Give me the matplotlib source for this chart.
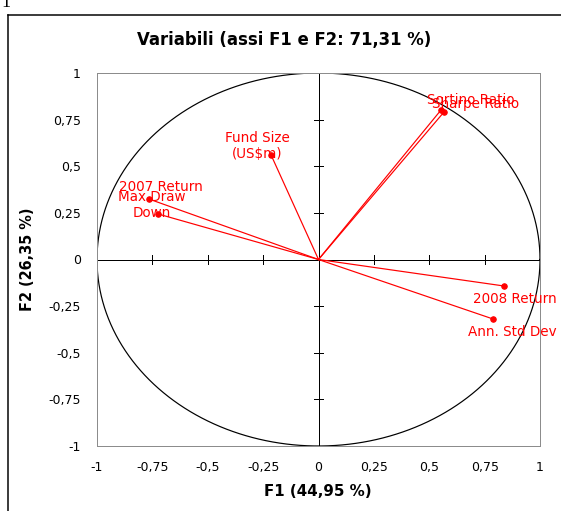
import numpy as np
import matplotlib
matplotlib.use("Agg")
import matplotlib.pyplot as plt

# correlation circle data (F1, F2 loadings)
variables = ["Fund Size\n(US$m)", "2007 Return", "Max Draw\nDown", "Sortino Ratio",
             "Sharpe Ratio", "2008 Return", "Ann. Std Dev"]
f1 = [-0.214, -0.765, -0.724, 0.552, 0.566, 0.837, 0.788]
f2 = [0.560, 0.324, 0.244, 0.800, 0.790, -0.142, -0.319]

ticks = [-1, -0.75, -0.5, -0.25, 0, 0.25, 0.5, 0.75, 1]
tick_labels = ["-1", "-0,75", "-0,5", "-0,25", "0", "0,25", "0,5", "0,75", "1"]

title = "Variabili (assi F1 e F2: 71,31 %)"
xlab = "F1 (44,95 %)"
ylab = "F2 (26,35 %)"

# label offsets in pixels (dx, dy) from each point, y up
offsets = [(-14, 9), (12, 12), (-6, 9), (30, 10), (32, 8), (11, -13), (19, -13)]

W, H = 561, 511
plt.rcParams['font.family'] = ['DejaVu Sans']
fig = plt.figure(figsize=(W / 72, H / 72), dpi=72)

ax = fig.add_axes([97 / W, 1 - 446 / H, (540 - 97) / W, (446 - 73) / H])
ax.set_xlim(-1, 1)
ax.set_ylim(-1, 1)
for s in ax.spines.values():
    s.set_color('#8c8c8c')
    s.set_linewidth(1)

# circle
t = np.linspace(0, 2 * np.pi, 400)
ax.plot(np.cos(t), np.sin(t), color='black', lw=1.2)

# zero lines with ticks
ax.axhline(0, color='black', lw=1)
ax.axvline(0, color='black', lw=1)
for v in ticks:
    ax.plot([v, v], [-0.025, 0.025], color='black', lw=1)
    ax.plot([-0.02, 0.02], [v, v], color='black', lw=1)

# vectors
for x, y, name, (dx, dy) in zip(f1, f2, variables, offsets):
    ax.plot([0, x], [0, y], color='red', lw=1.2)
    ax.plot(x, y, 'o', color='red', ms=5.5)
    ax.annotate(name, (x, y), xytext=(dx, dy), textcoords='offset points',
                ha='center', va='center', color='red', fontsize=13.5,
                linespacing=1.15)

ax.set_xticks(ticks)
ax.set_xticklabels(tick_labels)
ax.set_yticks(ticks)
ax.set_yticklabels(tick_labels)
ax.tick_params(length=0, labelsize=12.5, pad=15)
ax.tick_params(axis='y', pad=16)

fig.text(284 / W, 1 - 40 / H, title, ha='center', va='center', fontsize=16.5, fontweight='bold')
fig.text(318 / W, 1 - 491 / H, xlab, ha='center', va='center', fontsize=15, fontweight='bold')
fig.text(27 / W, 1 - 259 / H, ylab, ha='center', va='center', fontsize=14.5, fontweight='bold',
         rotation=90)

# outer frame (clipped at right and bottom)
fig.add_artist(plt.Line2D([8 / W, 8 / W], [0, 1 - 15 / H], color='black', lw=1.5))
fig.add_artist(plt.Line2D([8 / W, 1], [1 - 15 / H, 1 - 15 / H], color='black', lw=1.5))
fig.text(1 / W, 1 - 7 / H, "1", family='Liberation Serif', fontsize=18, va='baseline')

fig.savefig("out.png", dpi=72)
